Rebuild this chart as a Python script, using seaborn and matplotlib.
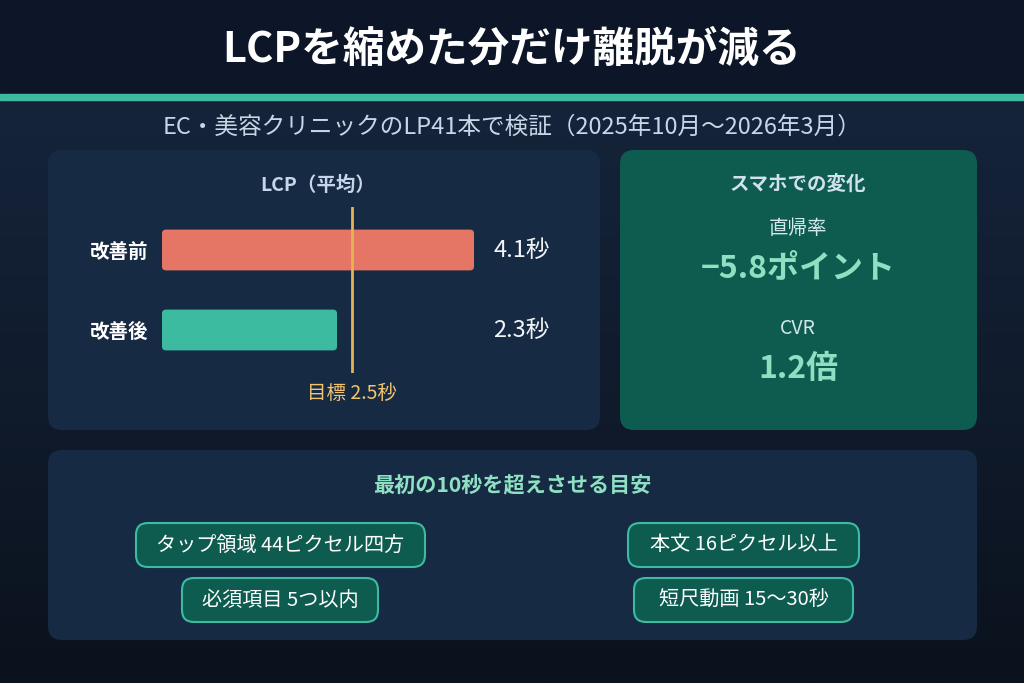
import numpy as np
import matplotlib
matplotlib.use("Agg")
import matplotlib.pyplot as plt
import matplotlib.transforms as mtransforms
from matplotlib.patches import FancyBboxPatch, Rectangle
import seaborn as sns

# --- データ ---
title = "LCPを縮めた分だけ離脱が減る"
subtitle = "EC・美容クリニックのLP41本で検証（2025年10月〜2026年3月）"
chart_title = "LCP（平均）"
phases = ["改善前", "改善後"]
lcp_sec = [4.1, 2.3]
target_sec = 2.5
stat_heading = "スマホでの変化"
stat_labels = ["直帰率", "CVR"]
stat_values = ["−5.8ポイント", "1.2倍"]
tips_heading = "最初の10秒を超えさせる目安"
tips = ["タップ領域 44ピクセル四方", "必須項目 5つ以内", "本文 16ピクセル以上", "短尺動画 15〜30秒"]

# --- 色 ---
BAND = "#0c1628"
TEAL = "#3dbba0"
PANEL = "#172a44"
GREEN_PANEL = "#0e5c4f"
RED = "#e57565"
GOLD = "#e2b552"
MINT = "#8fe0c2"

sns.set_theme(style="white")
plt.rcParams["font.family"] = ["Noto Sans CJK JP", "DejaVu Sans"]

W, H = 1024, 683
fig = plt.figure(figsize=(W / 100, H / 100), dpi=100)

# 背景（ピクセル座標）
bg = fig.add_axes([0, 0, 1, 1])
bg.set_xlim(0, W)
bg.set_ylim(H, 0)
bg.axis("off")
grad = np.linspace(0, 1, 256).reshape(-1, 1)
cmap = matplotlib.colors.LinearSegmentedColormap.from_list("bgc", ["#15243b", "#0b121d"])
bg.imshow(grad, cmap=cmap, extent=[0, W, H, 100], aspect="auto", zorder=0)
bg.add_patch(Rectangle((0, 0), W, 95, color=BAND, zorder=1))
bg.add_patch(Rectangle((0, 94), W, 6, color=TEAL, zorder=2))

bg.text(W / 2, 50, title, ha="center", va="center", color="white",
        fontsize=30, fontweight="bold", zorder=3)
bg.text(W / 2, 127, subtitle, ha="center", va="center", color="#c9d6e6",
        fontsize=17, zorder=3)


def panel(x, y, w, h, color):
    bg.add_patch(FancyBboxPatch((x, y), w, h, boxstyle="round,pad=0,rounding_size=14",
                                fc=color, ec="none", zorder=2))


panel(48, 150, 552, 280, PANEL)
panel(620, 150, 357, 280, GREEN_PANEL)
panel(48, 450, 929, 190, PANEL)

# 左パネル：棒グラフ
bg.text(318, 185, chart_title, ha="center", va="center", color="#c6d6e8",
        fontsize=14, fontweight="bold", zorder=3)

left, right, top, bottom = 162, 560, 207, 373
px_per_sec = 76.1
ax = fig.add_axes([left / W, 1 - bottom / H, (right - left) / W, (bottom - top) / H])
ax.set_facecolor("none")
sns.barplot(x=lcp_sec, y=phases, hue=phases, palette=[RED, TEAL], legend=False,
            orient="h", width=0.51, saturation=1, linewidth=0, ax=ax, zorder=2)
ax.set_xlim(0, (right - left) / px_per_sec)
ax.set_ylim(1.5375, -0.5375)

# 角を少し丸める
for bar in list(ax.patches):
    x0, y0 = bar.get_x(), bar.get_y()
    w, h = bar.get_width(), bar.get_height()
    rounded = FancyBboxPatch((x0, y0), w, h,
                             boxstyle=f"round,pad=0,rounding_size={4 / px_per_sec}",
                             mutation_aspect=px_per_sec / 80,
                             fc=bar.get_facecolor(), ec="none", zorder=2)
    bar.remove()
    ax.add_patch(rounded)

sns.despine(ax=ax, left=True, bottom=True)
ax.set_xticks([])
ax.set_xlabel("")
ax.set_ylabel("")
ax.tick_params(axis="y", length=0, pad=10)
for lab in ax.get_yticklabels():
    lab.set_color("white")
    lab.set_fontweight("bold")
    lab.set_fontsize(14)

ax.axvline(target_sec, color=GOLD, lw=2, zorder=3)
trans_lbl = mtransforms.blended_transform_factory(ax.transAxes, ax.transData)
for i, v in enumerate(lcp_sec):
    ax.text(0.832, i, f"{v}秒", transform=trans_lbl, ha="left", va="center",
            color="#f2f5f8", fontsize=17)
trans_tgt = mtransforms.blended_transform_factory(ax.transData, ax.transAxes)
ax.text(target_sec, -0.125, f"目標 {target_sec}秒", transform=trans_tgt,
        ha="center", va="center", color="#f2c46d", fontsize=14)

# 右パネル：スマホでの変化
cx = 798
bg.text(cx, 184, stat_heading, ha="center", va="center", color="#d0e2ee",
        fontsize=14, fontweight="bold", zorder=3)
for (lbl, val), ly, vy in zip(zip(stat_labels, stat_values), [229, 329], [269, 369]):
    bg.text(cx, ly, lbl, ha="center", va="center", color="#d4e6ee", fontsize=14, zorder=3)
    bg.text(cx, vy, val, ha="center", va="center", color=MINT, fontsize=23,
            fontweight="bold", zorder=3)

# 下パネル：目安のピル
bg.text(512, 486, tips_heading, ha="center", va="center", color=MINT,
        fontsize=15.2, fontweight="bold", zorder=3)
pill_boxes = [(136, 523, 289), (182, 578, 196), (628, 523, 231), (634, 578, 219)]
for txt, (px, py, pw) in zip(tips, pill_boxes):
    bg.add_patch(FancyBboxPatch((px, py), pw, 44, boxstyle="round,pad=0,rounding_size=12",
                                fc=GREEN_PANEL, ec=TEAL, lw=1.5, zorder=3))
    bg.text(px + pw / 2, py + 22, txt, ha="center", va="center", color="white",
            fontsize=14.5, zorder=4)

fig.savefig("out.png", dpi=100)
